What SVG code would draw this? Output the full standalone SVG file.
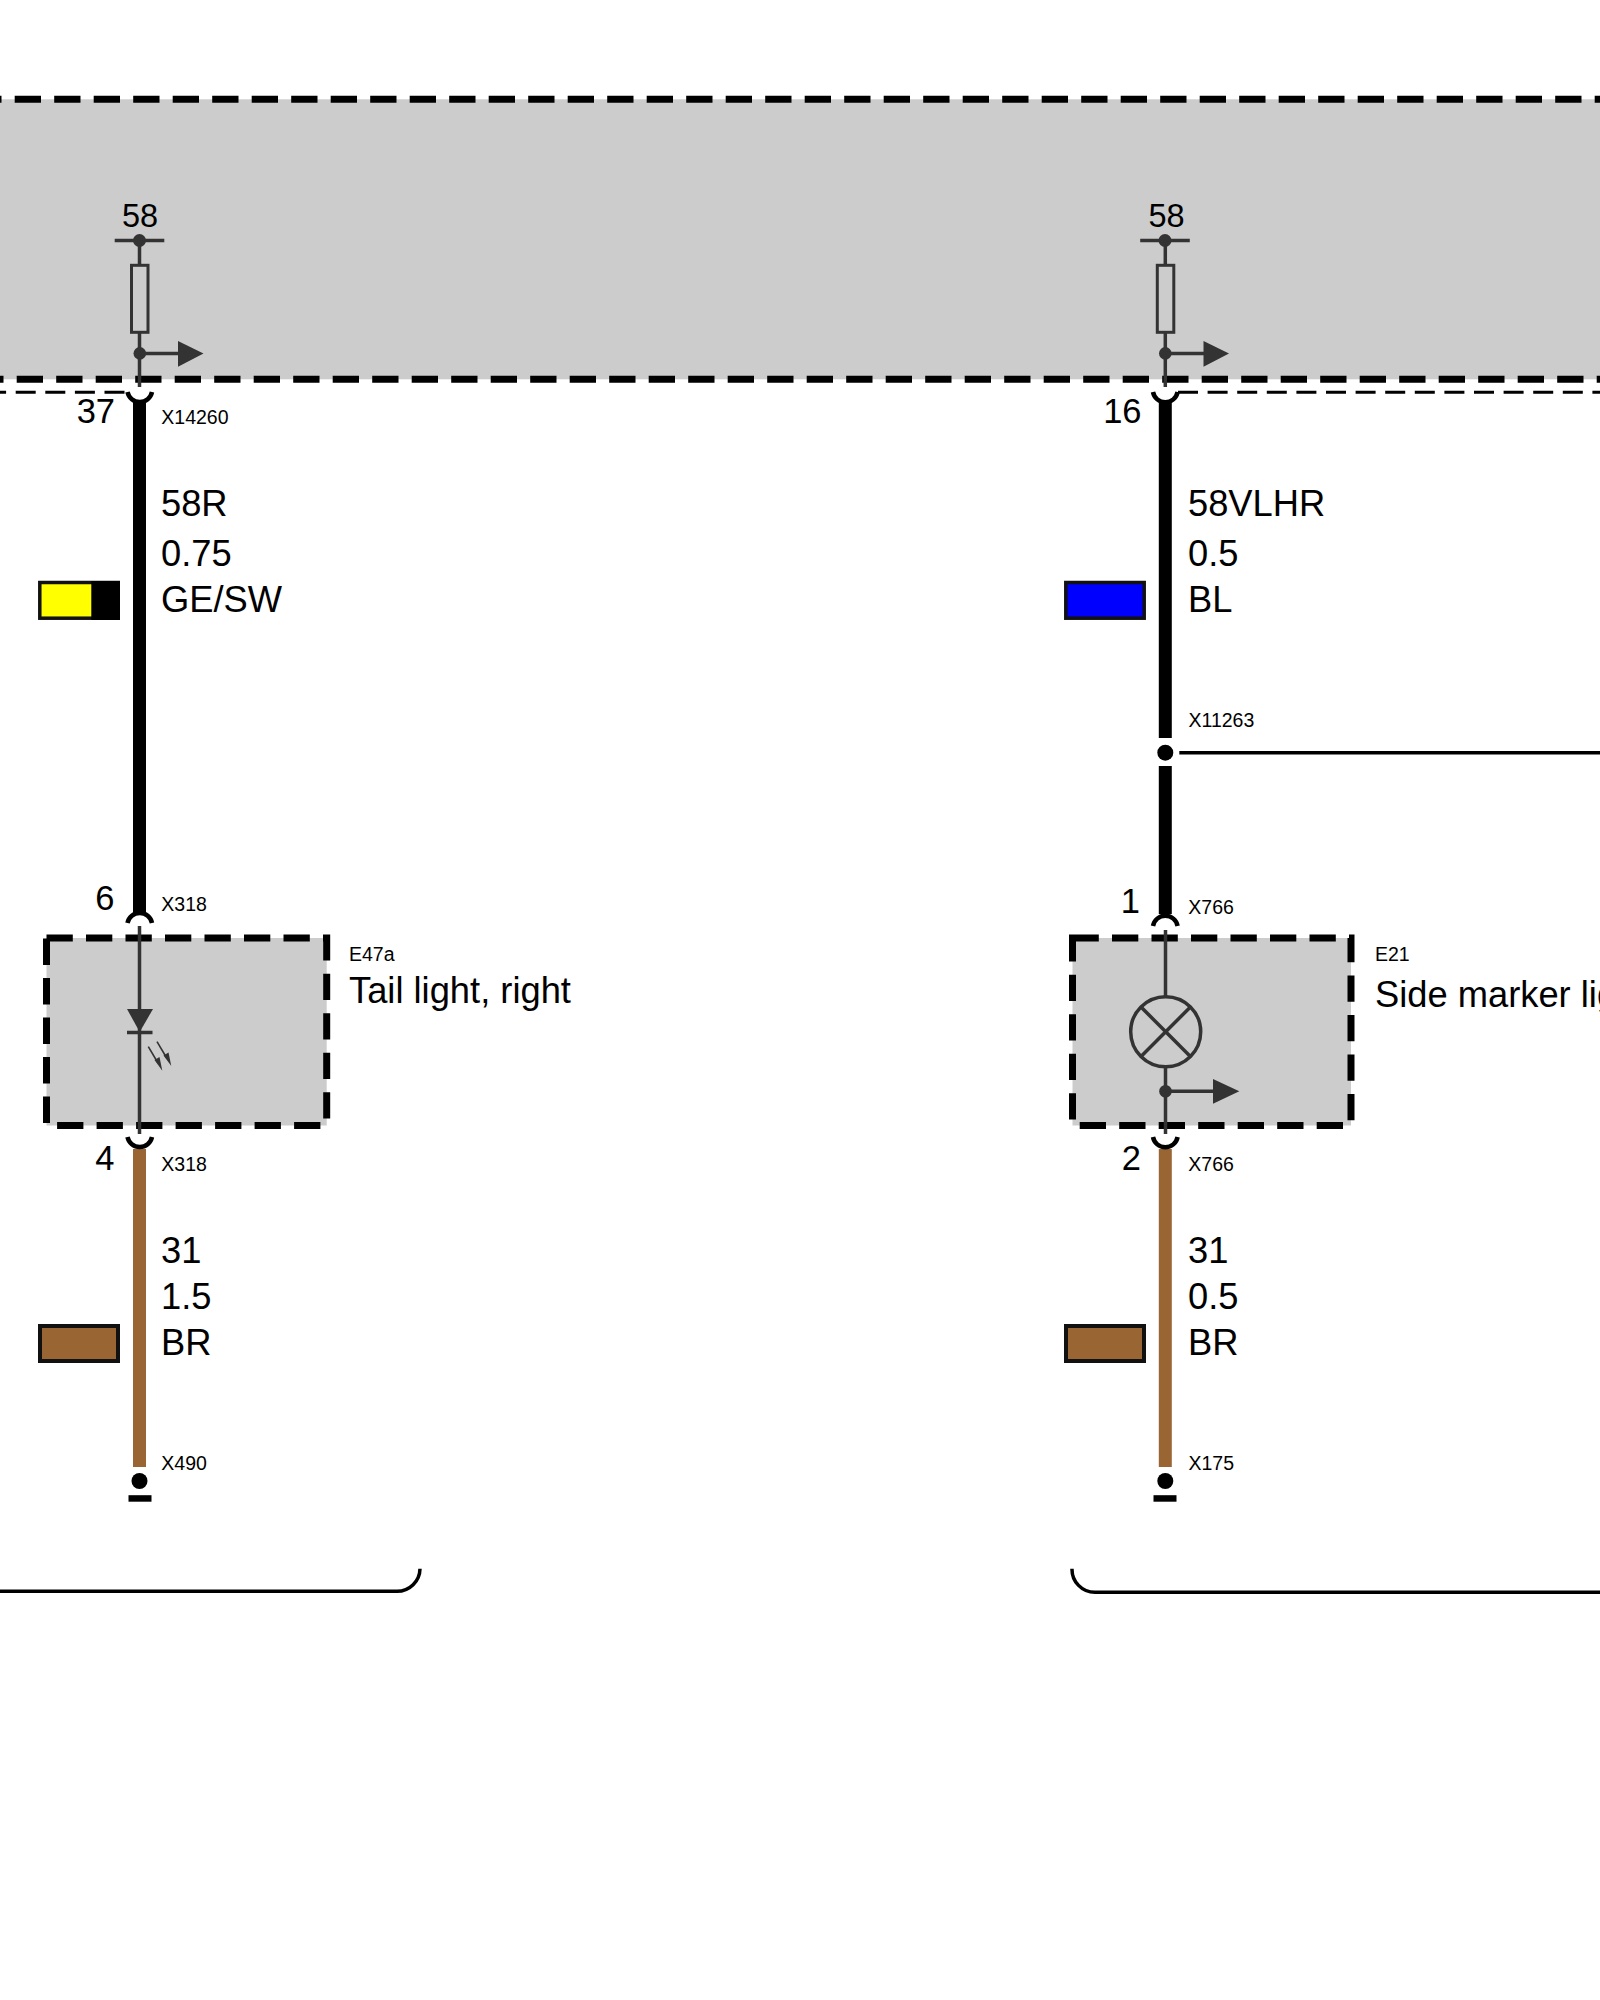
<svg xmlns="http://www.w3.org/2000/svg" width="1600" height="2000" viewBox="0 0 1600 2000">
<style>
text{font-family:"Liberation Sans",Arial,sans-serif;fill:#000}
.s{font-size:19.5px}
.l{font-size:36.3px}
.n{font-size:34.5px}
.t{font-size:32.5px}
.e{text-anchor:end}
.c{text-anchor:middle}
.band{stroke:#000;stroke-width:7;stroke-dasharray:26.3 13.2;fill:none}
.box{fill:#ccc;stroke:#000;stroke-width:7;stroke-dasharray:26.3 13.2;stroke-miterlimit:10}
.thin{stroke:#000;stroke-width:3;stroke-dasharray:20 9.6;fill:none}
.pin{stroke:#333;stroke-width:3.5;fill:none}
.fuse{stroke:#333;stroke-width:3;fill:none}
.fill{fill:#333}
.cupo{stroke:#000;stroke-width:4.5;fill:none}
.blk{stroke:#000;stroke-width:13;fill:none}
.brn{stroke:#963;stroke-width:13;fill:none}
.wire{stroke:#000;stroke-width:3.5;fill:none}
.sw{stroke:#111;stroke-width:3.5}
</style>
<rect width="1600" height="2000" fill="#fff"/>
<g id="control-unit">
<rect x="-10" y="99.3" width="1620" height="280" fill="#ccc"/>
<line class="band" x1="-24.8" y1="99.3" x2="1610" y2="99.3"/>
<line class="band" x1="-22.8" y1="379.3" x2="1610" y2="379.3"/>
<line class="thin" x1="-13.9" y1="392.3" x2="125" y2="392.3"/>
<line class="thin" x1="1178" y1="392.3" x2="1610" y2="392.3"/>
</g>
<g id="connectors">
<line class="blk" x1="139.5" y1="401" x2="139.5" y2="913"/>
<line class="brn" x1="139.5" y1="1149" x2="139.5" y2="1467"/>
<line class="blk" x1="1165.3" y1="401" x2="1165.3" y2="738"/>
<line class="blk" x1="1165.3" y1="766" x2="1165.3" y2="914"/>
<line class="brn" x1="1165.3" y1="1149" x2="1165.3" y2="1467"/>
<line class="wire" x1="1179.3" y1="752.7" x2="1610" y2="752.7"/>
</g>
<g id="pin-37">
<path class="cupo" d="M127.5 392 A12.5 12.5 0 0 0 152 392"/>
<line class="pin" x1="139.5" y1="333" x2="139.5" y2="387"/>
<text class="n e" x="115" y="423">37</text>
<text class="s" x="161.3" y="424">X14260</text>
</g>
<g id="fuse-left">
<text class="t c" x="140" y="227">58</text>
<line class="pin" x1="114.7" y1="240.5" x2="164.3" y2="240.5"/>
<circle class="fill" cx="139.5" cy="240.5" r="6.5"/>
<line class="pin" x1="139.5" y1="240.5" x2="139.5" y2="265.3"/>
<rect class="fuse" x="131.5" y="265.3" width="16.5" height="67"/>
<circle class="fill" cx="139.8" cy="353.4" r="6.3"/>
<line class="pin" x1="139.5" y1="353.4" x2="180" y2="353.4"/>
<polygon class="fill" points="178,341 203.5,353.4 178,366.7"/>
</g>
<g id="pin-16">
<path class="cupo" d="M1153 392 A12.5 12.5 0 0 0 1177.6 392"/>
<line class="pin" x1="1165.3" y1="333" x2="1165.3" y2="387"/>
<text class="n e" x="1141.5" y="423">16</text>
</g>
<g id="fuse-right">
<text class="t c" x="1166.5" y="227">58</text>
<line class="pin" x1="1140.2" y1="240.5" x2="1189.8" y2="240.5"/>
<circle class="fill" cx="1165" cy="240.5" r="6.5"/>
<line class="pin" x1="1165.3" y1="240.5" x2="1165.3" y2="265.3"/>
<rect class="fuse" x="1157.3" y="265.3" width="16.5" height="67"/>
<circle class="fill" cx="1165.3" cy="353.4" r="6.3"/>
<line class="pin" x1="1165.3" y1="353.4" x2="1205" y2="353.4"/>
<polygon class="fill" points="1203.5,341 1229,353.4 1203.5,366.7"/>
</g>
<g id="wire-58R">
<text class="l" x="161" y="515.7">58R</text>
<text class="l" x="161" y="565.7">0.75</text>
<text class="l" x="161" y="611.7">GE/SW</text>
<rect class="sw" x="39.8" y="582.5" width="78.4" height="35.7" fill="#ff0"/>
<rect x="91.3" y="581" width="28.7" height="39" fill="#000"/>
</g>
<g id="wire-58VLHR">
<text class="l" x="1188" y="515.7">58VLHR</text>
<text class="l" x="1188" y="565.7">0.5</text>
<text class="l" x="1188" y="611.7">BL</text>
<rect class="sw" x="1065.8" y="582.5" width="78.4" height="35.7" fill="#00f"/>
</g>
<g id="splice-X11263">
<circle cx="1165.3" cy="752.7" r="8" fill="#000"/>
<text class="s" x="1188.5" y="726.7">X11263</text>
</g>
<g id="E47a">
<rect class="box" x="46.5" y="938" width="280.2" height="187.5"/>
<line class="pin" x1="139.5" y1="926" x2="139.5" y2="1134"/>
<polygon class="fill" points="127,1009 153,1009 139.7,1032"/>
<line class="pin" x1="127" y1="1032.5" x2="152.5" y2="1032.5"/>
<g stroke="#333" stroke-width="1.6" fill="none">
<line x1="148.3" y1="1046.7" x2="158" y2="1063"/>
<line x1="157" y1="1041.7" x2="167" y2="1058.5"/>
</g>
<polygon class="fill" points="154.5,1060 159.5,1057 162.3,1070.7"/>
<polygon class="fill" points="163.5,1055.5 168.5,1052.5 171.3,1066"/>
<text class="s" x="349" y="961">E47a</text>
<text class="l" x="349" y="1002.7">Tail light, right</text>
<path class="cupo" d="M127.5 923 A12.5 12.5 0 0 1 152 923"/>
<text class="n e" x="114.5" y="910">6</text>
<text class="s" x="161.3" y="910.7">X318</text>
<path class="cupo" d="M127.5 1137 A12.5 12.5 0 0 0 152 1137"/>
<text class="n e" x="114.5" y="1169.7">4</text>
<text class="s" x="161.3" y="1170.7">X318</text>
</g>
<g id="E21">
<rect class="box" x="1072.5" y="938" width="278.5" height="187.5"/>
<line class="pin" x1="1165.5" y1="930" x2="1165.5" y2="996.5"/>
<circle class="pin" cx="1165.7" cy="1031.7" r="35"/>
<line class="pin" x1="1141" y1="1007" x2="1190.4" y2="1056.4"/>
<line class="pin" x1="1190.4" y1="1007" x2="1141" y2="1056.4"/>
<line class="pin" x1="1165.5" y1="1067" x2="1165.5" y2="1134"/>
<circle class="fill" cx="1165.5" cy="1091.3" r="6.3"/>
<line class="pin" x1="1165.5" y1="1091.3" x2="1215" y2="1091.3"/>
<polygon class="fill" points="1213,1079 1239.3,1091.3 1213,1103.7"/>
<text class="s" x="1375" y="961">E21</text>
<text class="l" x="1375" y="1006.7">Side marker lig</text>
<path class="cupo" d="M1153 926 A12.5 12.5 0 0 1 1177.6 926"/>
<text class="n e" x="1140" y="913.3">1</text>
<text class="s" x="1188.3" y="914">X766</text>
<path class="cupo" d="M1153 1137 A12.5 12.5 0 0 0 1177.6 1137"/>
<text class="n e" x="1141" y="1169.7">2</text>
<text class="s" x="1188.3" y="1170.7">X766</text>
</g>
<g id="wire-31-left">
<text class="l" x="161" y="1262.7">31</text>
<text class="l" x="161" y="1309">1.5</text>
<text class="l" x="161" y="1354.5">BR</text>
<rect x="40" y="1326" width="78" height="35" fill="#963" stroke="#111" stroke-width="4"/>
</g>
<g id="wire-31-right">
<text class="l" x="1188" y="1262.7">31</text>
<text class="l" x="1188" y="1309">0.5</text>
<text class="l" x="1188" y="1354.5">BR</text>
<rect x="1066" y="1326" width="78" height="35" fill="#963" stroke="#111" stroke-width="4"/>
</g>
<g id="ground-X490">
<circle cx="139.5" cy="1481" r="8" fill="#000"/>
<rect x="128.5" y="1495.2" width="23" height="6.5" fill="#000"/>
<text class="s" x="161.3" y="1470.3">X490</text>
</g>
<g id="ground-X175">
<circle cx="1165.3" cy="1481" r="8" fill="#000"/>
<rect x="1153.5" y="1495.2" width="23" height="6.5" fill="#000"/>
<text class="s" x="1188.5" y="1470.3">X175</text>
</g>
<g id="brackets">
<path class="wire" d="M-10 1591.3 H397 A23 23 0 0 0 420 1568.7"/>
<path class="wire" d="M1072 1568.7 A23 23 0 0 0 1095 1592.3 H1610"/>
</g>
</svg>
